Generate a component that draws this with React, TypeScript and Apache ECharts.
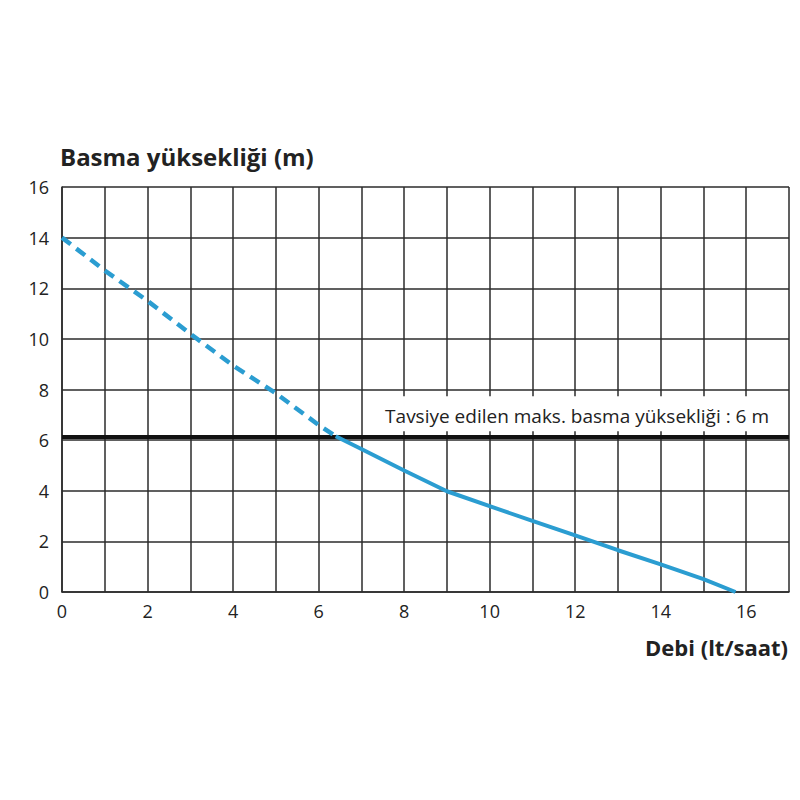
import React, { useEffect, useRef } from "react";
import * as echarts from "echarts";

const yAxisTitle = "Basma yüksekliği (m)";
const xAxisTitle = "Debi (lt/saat)";
const refLabel = "Tavsiye edilen maks. basma yüksekliği : 6 m";
const refValue = 6.15;

const xMin = 0, xMax = 17, xStep = 1;
const yMin = 0, yMax = 16, yStep = 2;

// Dashed part of the pump curve (outside recommended range)
const dashedCurve: [number, number][] = [
  [0, 14], [1, 12.7], [2, 11.5], [3, 10.2], [4, 8.95], [5, 7.85], [6, 6.6], [6.4, 6.15],
];
// Solid part of the pump curve
const solidCurve: [number, number][] = [
  [6.4, 6.15], [7, 5.65], [8, 4.8], [9, 3.98], [10, 3.39], [11, 2.81], [12, 2.24],
  [13, 1.65], [14, 1.09], [15, 0.51], [15.75, 0],
];

const BLUE = "#2b9dd1";
const GRID = "#2b2b2b";
const TEXT = "#222";
const FONT = "Open Sans";

export default function App() {
  const ref = useRef<HTMLDivElement>(null);
  useEffect(() => {
    if (!ref.current) return;
    const chart = echarts.init(ref.current, undefined, { renderer: "svg" });
    chart.setOption({
      animation: false,
      backgroundColor: "#fff",
      textStyle: { fontFamily: FONT },
      title: [
        {
          text: yAxisTitle,
          left: 60,
          top: 144,
          padding: 0,
          textStyle: { fontFamily: FONT, fontWeight: "bold", fontSize: 24, color: TEXT },
        },
        {
          text: xAxisTitle,
          right: 12,
          top: 636,
          padding: 0,
          textStyle: { fontFamily: FONT, fontWeight: "bold", fontSize: 22, color: TEXT },
        },
      ],
      grid: { left: 62, top: 187, right: 11, bottom: 208, containLabel: false },
      xAxis: {
        type: "value",
        min: xMin,
        max: xMax,
        interval: xStep,
        axisLine: { show: true, lineStyle: { color: GRID, width: 1.5 } },
        axisTick: { show: false },
        splitLine: { show: true, lineStyle: { color: GRID, width: 1.5 } },
        axisLabel: {
          margin: 10,
          fontSize: 18,
          color: TEXT,
          fontFamily: FONT,
          formatter: (v: number) => (v % 2 === 0 ? String(v) : ""),
        },
      },
      yAxis: {
        type: "value",
        min: yMin,
        max: yMax,
        interval: yStep,
        axisLine: { show: true, lineStyle: { color: GRID, width: 1.5 } },
        axisTick: { show: false },
        splitLine: { show: true, lineStyle: { color: GRID, width: 1.5 } },
        axisLabel: { margin: 13, fontSize: 18, color: TEXT, fontFamily: FONT },
      },
      series: [
        {
          type: "line",
          data: dashedCurve,
          symbol: "none",
          lineStyle: { color: BLUE, width: 4.5, type: [11, 7] },
          z: 5,
        },
        {
          type: "line",
          data: solidCurve,
          symbol: "none",
          lineStyle: { color: BLUE, width: 4 },
          z: 5,
          markLine: {
            silent: true,
            symbol: "none",
            lineStyle: { color: "#111", width: 4, type: "solid" },
            label: {
              show: true,
              position: "insideEndTop",
              formatter: refLabel,
              fontFamily: FONT,
              fontSize: 19,
              color: TEXT,
              backgroundColor: "#fff",
              padding: [10, 12, 6, 12],
              distance: [8, 5],
            },
            data: [{ yAxis: refValue }],
          },
        },
      ],
    });
    return () => chart.dispose();
  }, []);
  return (
    <div
      ref={ref}
      style={{ position: "fixed", left: 0, top: 0, width: 800, height: 800 }}
    />
  );
}
